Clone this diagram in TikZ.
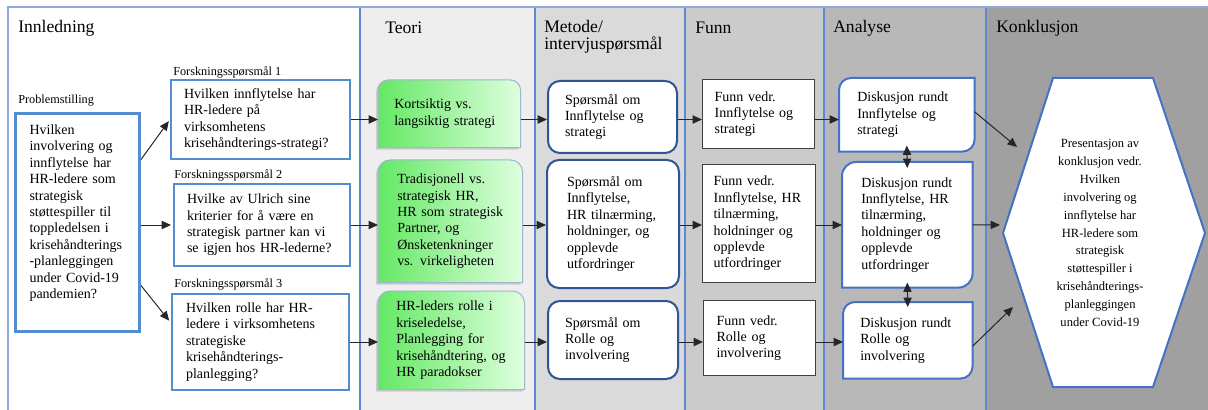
\documentclass[tikz,border=0pt]{standalone}
\usepackage{fontspec}
\setmainfont{Liberation Serif}
\usetikzlibrary{arrows.meta,shadows}

\newdimen\pxu \pxu=0.75pt

\definecolor{frameblue}{RGB}{142,170,219}
\definecolor{colblue}{RGB}{95,135,210}
\definecolor{probblue}{RGB}{84,140,208}
\definecolor{metblue}{RGB}{47,85,151}
\definecolor{anblue}{RGB}{68,114,196}
\definecolor{teoline}{RGB}{160,180,205}
\definecolor{teoribg}{RGB}{238,238,238}
\definecolor{metodebg}{RGB}{218,218,218}
\definecolor{funnbg}{RGB}{203,203,203}
\definecolor{analysebg}{RGB}{184,184,184}
\definecolor{konkbg}{RGB}{160,160,160}
\definecolor{greenL}{RGB}{100,232,100}
\definecolor{greenR}{RGB}{222,255,222}

\pgfdeclarelayer{back}
\pgfdeclarelayer{shapes}
\pgfsetlayers{back,shapes,main}

% box with the two top corners rounded
\newcommand\toprounded[3]{%
  \path[#2] (#1.south west) -- ([yshift=-#3]#1.north west)
    arc[start angle=180, end angle=90, radius=#3]
    -- ([xshift=-#3]#1.north east)
    arc[start angle=90, end angle=0, radius=#3]
    -- (#1.south east) -- cycle;}
% box with top left and bottom right corners rounded
\newcommand\diagrounded[3]{%
  \path[#2] (#1.south west) -- ([yshift=-#3]#1.north west)
    arc[start angle=180, end angle=90, radius=#3]
    -- (#1.north east) -- ([yshift=#3]#1.south east)
    arc[start angle=0, end angle=-90, radius=#3]
    -- cycle;}

\tikzset{
  head/.style={anchor=west, inner sep=0pt, font=\fontsize{13.2}{12.8}\selectfont},
  qlabel/.style={anchor=west, inner sep=0pt, font=\fontsize{9.2}{11}\selectfont},
  txt/.style={anchor=north west, inner ysep=0pt, align=left, font=\fontsize{10.5}{12.3}\selectfont},
  probbox/.style={txt, draw=probblue, line width=3\pxu, fill=white},
  fsbox/.style={txt, draw=probblue, line width=2\pxu, fill=white},
  metbox/.style={txt, draw=metblue, line width=2\pxu, fill=white, rounded corners=12\pxu},
  funnbox/.style={txt, draw=black!75, line width=1.2\pxu, fill=white},
  teoshape/.style={draw=teoline, line width=1\pxu, left color=greenL, right color=greenR,
    drop shadow={shadow xshift=-1.5pt, shadow yshift=-1.5pt, opacity=.3}},
  anshape/.style={draw=anblue, line width=2\pxu, fill=white},
  colline/.style={draw=colblue, line width=2\pxu},
  link/.style={->, line width=1\pxu, draw=black!85},
  >={Triangle[length=7pt, width=6.2pt]},
}

\begin{document}
\begin{tikzpicture}[x=0.75pt, y=-0.75pt]
 \useasboundingbox (0,0) rectangle (1208,410);

 \begin{pgfonlayer}{back}
  \fill[white] (0,0) rectangle (1208,410);
  \fill[teoribg] (360,7) rectangle (535,410);
  \fill[metodebg] (535,7) rectangle (685,410);
  \fill[funnbg] (685,7) rectangle (824,410);
  \fill[analysebg] (824,7) rectangle (986,410);
  \fill[konkbg] (986,7) rectangle (1208,410);
  \draw[colline] (360,7) -- (360,410);
  \draw[colline] (535,7) -- (535,410);
  \draw[colline] (685,7) -- (685,410);
  \draw[colline] (824,7) -- (824,410);
  \draw[colline] (986,7) -- (986,410);
  \draw[frameblue, line width=1.5\pxu] (8,410) -- (8,7) -- (1208,7);
 \end{pgfonlayer}

 \node[head] (hInn) at (18,28) {Innledning};
 \node[head] (hTeo) at (385,28) {Teori};
 \node[head, align=left] (hMet) at (544,37) {Metode/\\intervjuspørsmål};
 \node[head] (hFunn) at (695,28) {Funn};
 \node[head] (hAn) at (833,28) {Analyse};
 \node[head] (hKonk) at (996,28) {Konklusjon};

 % innledning
 \node[qlabel] (lProb) at (18,101) {Problemstilling};
 \node[probbox, minimum width=124\pxu, inner xsep=14\pxu, text width=96\pxu,
  text height=21\pxu, text depth=197\pxu]
  (pb) at (14,112) {Hvilken\\ involvering og\\ innflytelse har\\ HR-ledere som\\ strategisk\\ støttespiller til\\ toppledelsen i\\ krisehåndterings\\ -planleggingen\\ under Covid-19\\ pandemien?};

 \node[qlabel] (lFs1) at (173,72) {Forskningsspørsmål 1};
 \node[qlabel] (lFs2) at (174,175) {Forskningsspørsmål 2};
 \node[qlabel] (lFs3) at (174,284) {Forskningsspørsmål 3};
 \node[fsbox, minimum width=179\pxu, minimum height=79\pxu, inner xsep=13\pxu, text width=153\pxu]
  (fs1) at (170,79) {Hvilken innflytelse har\\ HR-ledere på\\ virksomhetens\\ krisehåndterings-strategi?};
 \node[fsbox, minimum width=176\pxu, minimum height=82\pxu, inner xsep=13\pxu, text width=150\pxu]
  (fs2) at (173,183) {Hvilke av Ulrich sine\\ kriterier for å være en\\ strategisk partner kan vi\\ se igjen hos HR-lederne?};
 \node[fsbox, minimum width=177\pxu, minimum height=96\pxu, inner xsep=14\pxu, text width=149\pxu]
  (fs3) at (171,293) {Hvilken rolle har HR-\\ ledere i virksomhetens\\ strategiske\\ krisehåndterings-\\ planlegging?};

 % teori
 \node[txt, minimum width=142\pxu, minimum height=67\pxu, inner xsep=16\pxu, text width=110\pxu]
  (te1) at (378,80) {Kortsiktig vs.\\ langsiktig strategi};
 \node[txt, minimum width=144\pxu, minimum height=122\pxu, inner xsep=19\pxu, text width=106\pxu]
  (te2) at (378,160) {Tradisjonell vs.\\ strategisk HR,\\ HR som strategisk\\ Partner, og\\ Ønsketenkninger\\ vs. virkeligheten};
 \node[txt, minimum width=146\pxu, minimum height=98\pxu, inner xsep=18\pxu, text width=110\pxu]
  (te3) at (378,291) {HR-leders rolle i\\ kriseledelse,\\ Planlegging for\\ krisehåndtering, og\\ HR paradokser};

 % metode
 \node[metbox, minimum width=129\pxu, minimum height=72\pxu, inner xsep=17\pxu, text width=95\pxu]
  (me1) at (547,80) {Spørsmål om\\ Innflytelse og\\ strategi};
 \node[metbox, minimum width=132\pxu, minimum height=128\pxu, inner xsep=20\pxu, text width=92\pxu]
  (me2) at (546,159) {Spørsmål om\\ Innflytelse,\\ HR tilnærming,\\ holdninger, og\\ opplevde\\ utfordringer};
 \node[metbox, minimum width=130\pxu, minimum height=78\pxu, inner xsep=17\pxu, text width=96\pxu]
  (me3) at (547,300) {Spørsmål om\\ Rolle og\\ involvering};

 % funn
 \node[funnbox, minimum width=112\pxu, minimum height=69\pxu, inner xsep=12\pxu, text width=88\pxu]
  (fu1) at (702,79) {Funn vedr.\\ Innflytelse og\\ strategi};
 \node[funnbox, minimum width=113\pxu, minimum height=118\pxu, inner xsep=11\pxu, text width=91\pxu]
  (fu2) at (702,164) {Funn vedr.\\ Innflytelse, HR\\ tilnærming,\\ holdninger og\\ opplevde\\ utfordringer};
 \node[funnbox, minimum width=112\pxu, minimum height=75\pxu, inner xsep=13\pxu, text width=86\pxu]
  (fu3) at (703,300) {Funn vedr.\\ Rolle og\\ involvering};

 % analyse
 \node[txt, minimum width=135\pxu, minimum height=73\pxu, inner xsep=18\pxu, text width=99\pxu]
  (an1) at (839,78) {Diskusjon rundt\\ Innflytelse og\\ strategi};
 \node[txt, minimum width=130\pxu, minimum height=125\pxu, inner xsep=19\pxu, text width=92\pxu]
  (an2) at (842,162) {Diskusjon rundt\\ Innflytelse, HR\\ tilnærming,\\ holdninger og\\ opplevde\\ utfordringer};
 \node[txt, minimum width=129\pxu, minimum height=76\pxu, inner xsep=17\pxu, text width=95\pxu]
  (an3) at (843,302) {Diskusjon rundt\\ Rolle og\\ involvering};

 % konklusjon
 \node[align=center, inner sep=0pt, font=\fontsize{9.4}{13.4}\selectfont]
  (konk) at (1100,233) {Presentasjon av\\ konklusjon vedr.\\ Hvilken\\ involvering og\\ innflytelse har\\ HR-ledere som\\ strategisk\\ støttespiller i\\ krisehåndterings-\\ planleggingen\\ under Covid-19};

 \begin{pgfonlayer}{shapes}
  \toprounded{te1}{teoshape}{10\pxu}
  \toprounded{te2}{teoshape}{12\pxu}
  \toprounded{te3}{teoshape}{12\pxu}
  \diagrounded{an1}{anshape}{12\pxu}
  \diagrounded{an2}{anshape}{14\pxu}
  \diagrounded{an3}{anshape}{12\pxu}
  \draw[draw=anblue, line width=2\pxu, fill=white]
   (1053,78) -- (1153,78) -- (1205,233) -- (1153,387) -- (1053,387) -- (1003,233) -- cycle;
 \end{pgfonlayer}

 \coordinate (h1) at (1017,147);
 \coordinate (h2) at (1000,225);
 \coordinate (h3) at (1013,307);

 \draw[link, shorten >=2\pxu] ([yshift=63\pxu]pb.east) -- (fs1.west);
 \draw[link, shorten >=2\pxu] (pb.east |- fs2.west) -- (fs2.west);
 \draw[link, shorten >=3\pxu] ([yshift=-63\pxu]pb.east) -- ([yshift=19\pxu]fs3.west);

 \draw[link] (fs1.east) -- (fs1.east -| te1.west);
 \draw[link] (te1.east |- fs1.east) -- (fs1.east -| me1.west);
 \draw[link] (me1.east |- fs1.east) -- (fs1.east -| fu1.west);
 \draw[link] (fu1.east |- fs1.east) -- (fs1.east -| an1.west);

 \draw[link] (fs2.east) -- (fs2.east -| te2.west);
 \draw[link] (te2.east |- fs2.east) -- (fs2.east -| me2.west);
 \draw[link] (me2.east |- fs2.east) -- (fs2.east -| fu2.west);
 \draw[link] (fu2.east |- fs2.east) -- (fs2.east -| an2.west);

 \draw[link] (fs3.east) -- (fs3.east -| te3.west);
 \draw[link] (te3.east |- fs3.east) -- (fs3.east -| me3.west);
 \draw[link] (me3.east |- fs3.east) -- (fs3.east -| fu3.west);
 \draw[link] (fu3.east |- fs3.east) -- (fs3.east -| an3.west);

 \draw[link, <->] ([yshift=6\pxu]an1.south) -- ([yshift=-6\pxu]an2.north);
 \draw[link, <->] ([yshift=5\pxu]an2.south) -- ([yshift=-5\pxu]an3.north);

 \draw[link] ([yshift=3\pxu]an1.east) -- (h1);
 \draw[link] (an2.east) -- (h2);
 \draw[link] ([yshift=-6\pxu]an3.east) -- (h3);
\end{tikzpicture}
\end{document}
